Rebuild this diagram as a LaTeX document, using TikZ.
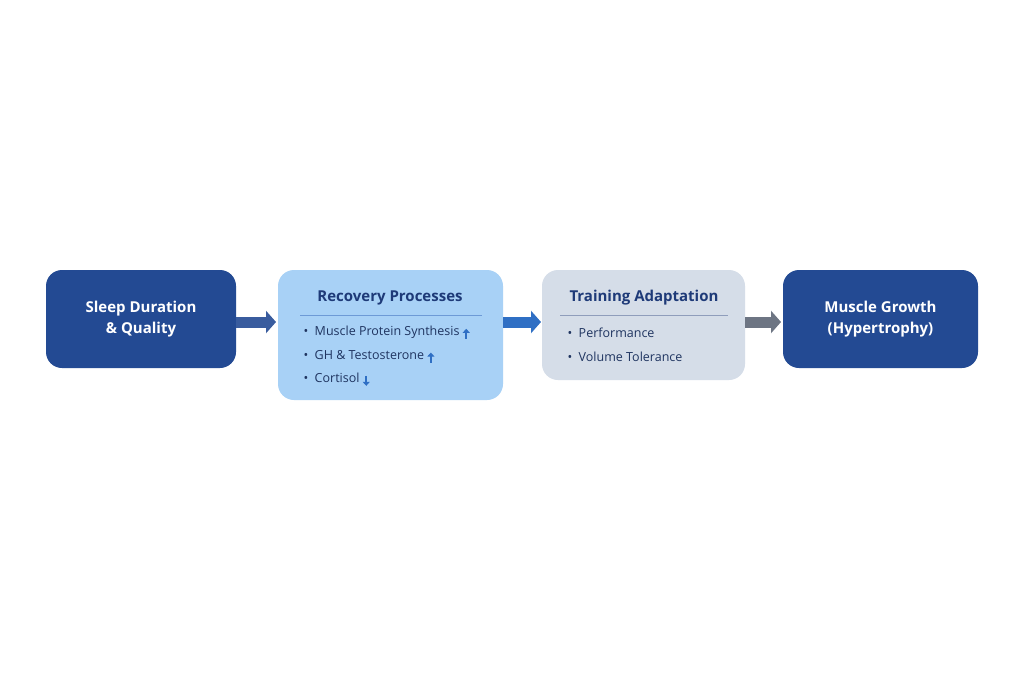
\documentclass[tikz,border=0pt]{standalone}
\usepackage{fontspec}
\setmainfont{Open Sans}
\usetikzlibrary{arrows.meta}
\definecolor{dkb}{HTML}{234A93}
\definecolor{ltb}{HTML}{A8D1F6}
\definecolor{gry}{HTML}{D5DDE8}
\definecolor{ttl}{HTML}{1E3A78}
\definecolor{txt}{HTML}{1F3460}
\definecolor{arb}{HTML}{2F6FC4}
\newcommand{\myup}{\tikz[baseline=-1pt]\draw[arb,line width=1.8pt,-{Triangle[length=4pt,width=7pt]}](0,-4pt)--(0,6pt);}
\newcommand{\mydn}{\tikz[baseline=-1pt]\draw[arb,line width=1.8pt,-{Triangle[length=4pt,width=7pt]}](0,6pt)--(0,-4pt);}
\begin{document}
\begin{tikzpicture}[x=1pt,y=-1pt,
 box/.style={rounded corners=16pt},
 ttlw/.style={text=white,font=\bfseries\fontsize{15}{21}\selectfont,align=center},
 ttlb/.style={text=ttl,font=\bfseries\fontsize{15}{18}\selectfont},
 item/.style={text=txt,font=\fontsize{12.5}{15}\selectfont,anchor=west},
 fl/.style={line width=11pt,-{Triangle[length=10pt,width=22pt]}}]
\useasboundingbox (0,0) rectangle (1024,683);
\fill[white] (0,0) rectangle (1024,683);
\node[box,fill=dkb,minimum width=190pt,minimum height=98pt,ttlw] (a) at (141,319) {Sleep Duration\\\& Quality};
\node[box,fill=ltb,minimum width=225pt,minimum height=130pt] (b) at (390.5,335) {};
\node[box,fill=gry,minimum width=203pt,minimum height=110pt] (c) at (643.5,325) {};
\node[box,fill=dkb,minimum width=195pt,minimum height=98pt,ttlw] (d) at (880.5,319) {Muscle Growth\\(Hypertrophy)};
\node[ttlb] (bt) at (390,298) {Recovery Processes};
\draw[arb!70,line width=0.6pt] (300,315) coordinate (b1) -- (482,315) coordinate (b2);
\node[item] (b3) at (300,333) {•\ \ Muscle Protein Synthesis \myup};
\node[item] (b4) at (300,357) {•\ \ GH \& Testosterone \myup};
\node[item] (b5) at (300,380) {•\ \ Cortisol \mydn};
\node[ttlb] (ct) at (644,298) {Training Adaptation};
\draw[ttl!50,line width=0.6pt] (560,315) coordinate (c1) -- (728,315) coordinate (c2);
\node[item] (c3) at (564,333) {•\ \ Performance};
\node[item] (c4) at (564,357) {•\ \ Volume Tolerance};
\draw[fl,color=dkb!90] (a.east|-0,322) -- (276,322) coordinate (ae);
\draw[fl,color=arb] (b.east|-0,322) -- (541,322) coordinate (be);
\draw[fl,color=gray!80!dkb] (c.east|-0,322) -- (781,322) coordinate (ce);
\end{tikzpicture}
\end{document}
